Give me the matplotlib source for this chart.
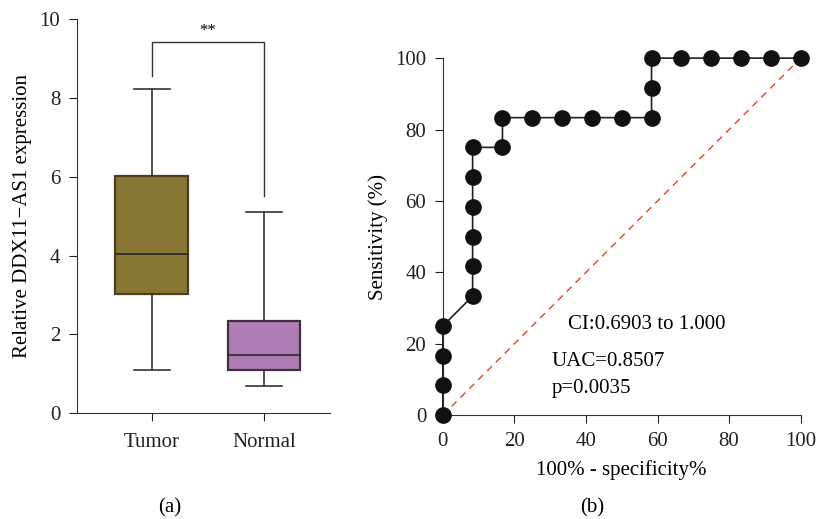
import numpy as np
import matplotlib.pyplot as plt

plt.rcParams['font.family'] = ['Liberation Serif', 'DejaVu Serif']

# box plot summary values
groups = ['Tumor', 'Normal']
whisk_lo = [1.1, 0.68]
q1 = [3.02, 1.1]
med = [4.03, 1.48]
q3 = [6.03, 2.35]
whisk_hi = [8.22, 5.1]
box_colors = ['#887634', '#ae7bb4']
edge_colors = ['#4a3f1f', '#3f2f40']

# ROC curve points (%)
fpr = [0, 0, 0, 0, 8.33, 8.33, 8.33, 8.33, 8.33, 8.33, 16.67, 16.67, 25, 33.33,
       41.67, 50, 58.33, 58.33, 58.33, 66.67, 75, 83.33, 91.67, 100]
tpr = [0, 8.33, 16.67, 25, 33.33, 41.67, 50, 58.33, 66.67, 75, 75, 83.33, 83.33, 83.33,
       83.33, 83.33, 83.33, 91.67, 100, 100, 100, 100, 100, 100]

fs = 15

fig = plt.figure(figsize=(8.17, 5.19), dpi=100)
ax1 = fig.add_axes([0.094, 0.204, 0.31, 0.759])
ax2 = fig.add_axes([0.542, 0.200, 0.438, 0.688])

stats = []
for i, g in enumerate(groups):
    stats.append(dict(label=g, whislo=whisk_lo[i], q1=q1[i], med=med[i],
                      q3=q3[i], whishi=whisk_hi[i], fliers=[]))
bp = ax1.bxp(stats, positions=[1, 2], widths=0.65, patch_artist=True,
             showfliers=False)
for i, b in enumerate(bp['boxes']):
    b.set_facecolor(box_colors[i])
    b.set_edgecolor(edge_colors[i])
    b.set_linewidth(1.6)
for m in bp['medians']:
    m.set_color('#2a2a2a')
    m.set_linewidth(1.2)
for w in bp['whiskers'] + bp['caps']:
    w.set_color('#333333')
    w.set_linewidth(1.2)

# significance bracket
ax1.plot([1, 1, 2, 2], [8.55, 9.42, 9.42, 5.5], color='#333333', lw=1.0,
         clip_on=False)
ax1.text(1.5, 9.5, '**', ha='center', va='bottom', fontsize=12)

ax1.set_xlim(0.33, 2.59)
ax1.set_ylim(0, 10)
ax1.set_yticks([0, 2, 4, 6, 8, 10])
ax1.set_ylabel('Relative DDX11\u2212AS1 expression', fontsize=fs)
ax1.yaxis.set_label_coords(-0.178, 0.5)
for s in ['top', 'right']:
    ax1.spines[s].set_visible(False)
for s in ['left', 'bottom']:
    ax1.spines[s].set_color('#333333')
ax1.tick_params(labelsize=fs, colors='#222222', length=6, pad=6)
ax1.tick_params(axis='x', pad=8)

# ROC panel
ax2.plot([0, 100], [0, 100], color='#e8402a', lw=1.0, ls=(0, (5, 4)))
ax2.plot(fpr, tpr, color='#222222', lw=1.2, marker='o', markersize=11,
         markerfacecolor='#111111', markeredgecolor='#111111', clip_on=False,
         zorder=3)
ax2.set_xlim(0, 100)
ax2.set_ylim(0, 100)
ax2.set_xticks(np.arange(0, 101, 20))
ax2.set_yticks(np.arange(0, 101, 20))
for s in ['top', 'right']:
    ax2.spines[s].set_visible(False)
for s in ['left', 'bottom']:
    ax2.spines[s].set_color('#333333')
ax2.tick_params(labelsize=fs, colors='#222222', length=6, pad=6)
ax2.set_xlabel('100% - specificity%', fontsize=fs)
ax2.set_ylabel('Sensitivity (%)', fontsize=fs)
ax2.xaxis.set_label_coords(0.5, -0.126)
ax2.yaxis.set_label_coords(-0.154, 0.5)

ax2.text(35, 25.3, 'CI:0.6903 to 1.000', fontsize=fs, va='center')
ax2.text(30.5, 15, 'UAC=0.8507', fontsize=fs, va='center')
ax2.text(30.5, 7.5, 'p=0.0035', fontsize=fs, va='center')

fig.text(0.208, 0.021, '(a)', ha='center', va='center', fontsize=fs)
fig.text(0.725, 0.021, '(b)', ha='center', va='center', fontsize=fs)

fig.savefig('out.png', dpi=100)
